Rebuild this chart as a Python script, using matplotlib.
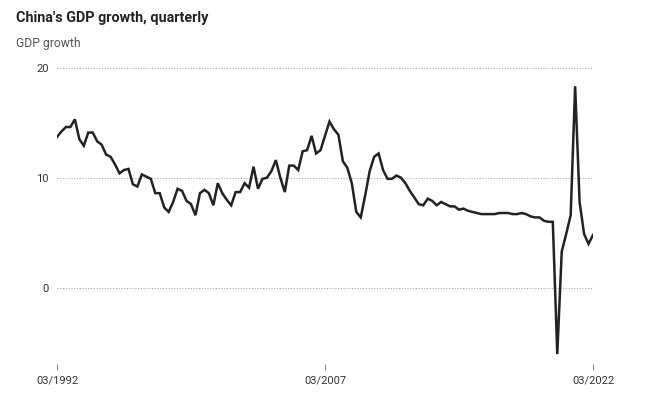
import matplotlib
matplotlib.use("Agg")
import matplotlib.pyplot as plt

# quarterly GDP growth (% y/y), Q1 1992 .. Q1 2022
gdp_growth = [
    13.7, 14.2, 14.6, 14.6, 15.3, 13.5, 12.9, 14.1, 14.1, 13.3,
    13.0, 12.1, 11.9, 11.2, 10.4, 10.7, 10.8, 9.4, 9.2, 10.3,
    10.1, 9.9, 8.6, 8.6, 7.3, 6.9, 7.8, 9.0, 8.8, 7.9,
    7.6, 6.6, 8.6, 8.9, 8.6, 7.5, 9.5, 8.6, 8.0, 7.5,
    8.7, 8.7, 9.5, 9.1, 11.0, 9.0, 9.9, 10.0, 10.6, 11.6,
    10.0, 8.7, 11.1, 11.1, 10.7, 12.4, 12.5, 13.8, 12.2, 12.5,
    13.8, 15.1, 14.4, 13.9, 11.5, 10.9, 9.5, 6.9, 6.4, 8.4,
    10.6, 11.9, 12.2, 10.7, 9.9, 9.9, 10.2, 10.0, 9.5, 8.8,
    8.2, 7.6, 7.5, 8.1, 7.9, 7.5, 7.8, 7.6, 7.4, 7.4,
    7.1, 7.2, 7.0, 6.9, 6.8, 6.7, 6.7, 6.7, 6.7, 6.8,
    6.8, 6.8, 6.7, 6.7, 6.8, 6.7, 6.5, 6.4, 6.4, 6.1,
    6.0, 6.0, -6.0, 3.3, 4.9, 6.6, 18.3, 7.8, 4.9, 4.0,
    4.8,
]
quarters = list(range(len(gdp_growth)))

y_ticks = [0, 10, 20]
x_ticks = [0, 60, 120]
x_labels = ["03/1992", "03/2007", "03/2022"]

plt.rcParams["font.family"] = ["Roboto", "DejaVu Sans"]

fig = plt.figure(figsize=(6.47, 4.17), dpi=100)
ax = fig.add_axes([57 / 647, 1 - 364 / 417, 536 / 647, 302 / 417])

ax.plot(quarters, gdp_growth, color="#222222", lw=1.8, solid_joinstyle="miter")

ax.set_xlim(0, 120)
ax.set_ylim(-6.9, 20.5)

ax.set_yticks(y_ticks)
ax.set_yticklabels([str(t) for t in y_ticks])
ax.set_xticks(x_ticks)
ax.set_xticklabels(x_labels)

ax.grid(axis="y", linestyle=(0, (1, 1.5)), color="#aaaaaa", lw=0.8)
ax.set_axisbelow(True)
for s in ax.spines.values():
    s.set_visible(False)

ax.tick_params(axis="y", length=0, pad=6, labelsize=8, labelcolor="#333333")
ax.tick_params(axis="x", length=4, width=0.8, color="#888888", pad=4,
               labelsize=8, labelcolor="#333333")

fig.text(16 / 647, 1 - 18 / 417, "China's GDP growth, quarterly",
         fontsize=10.4, fontweight="bold", color="#222222", va="center")
fig.text(16 / 647, 1 - 43 / 417, "GDP growth",
         fontsize=8.7, color="#555555", va="center")

fig.savefig("out.png", dpi=100)
